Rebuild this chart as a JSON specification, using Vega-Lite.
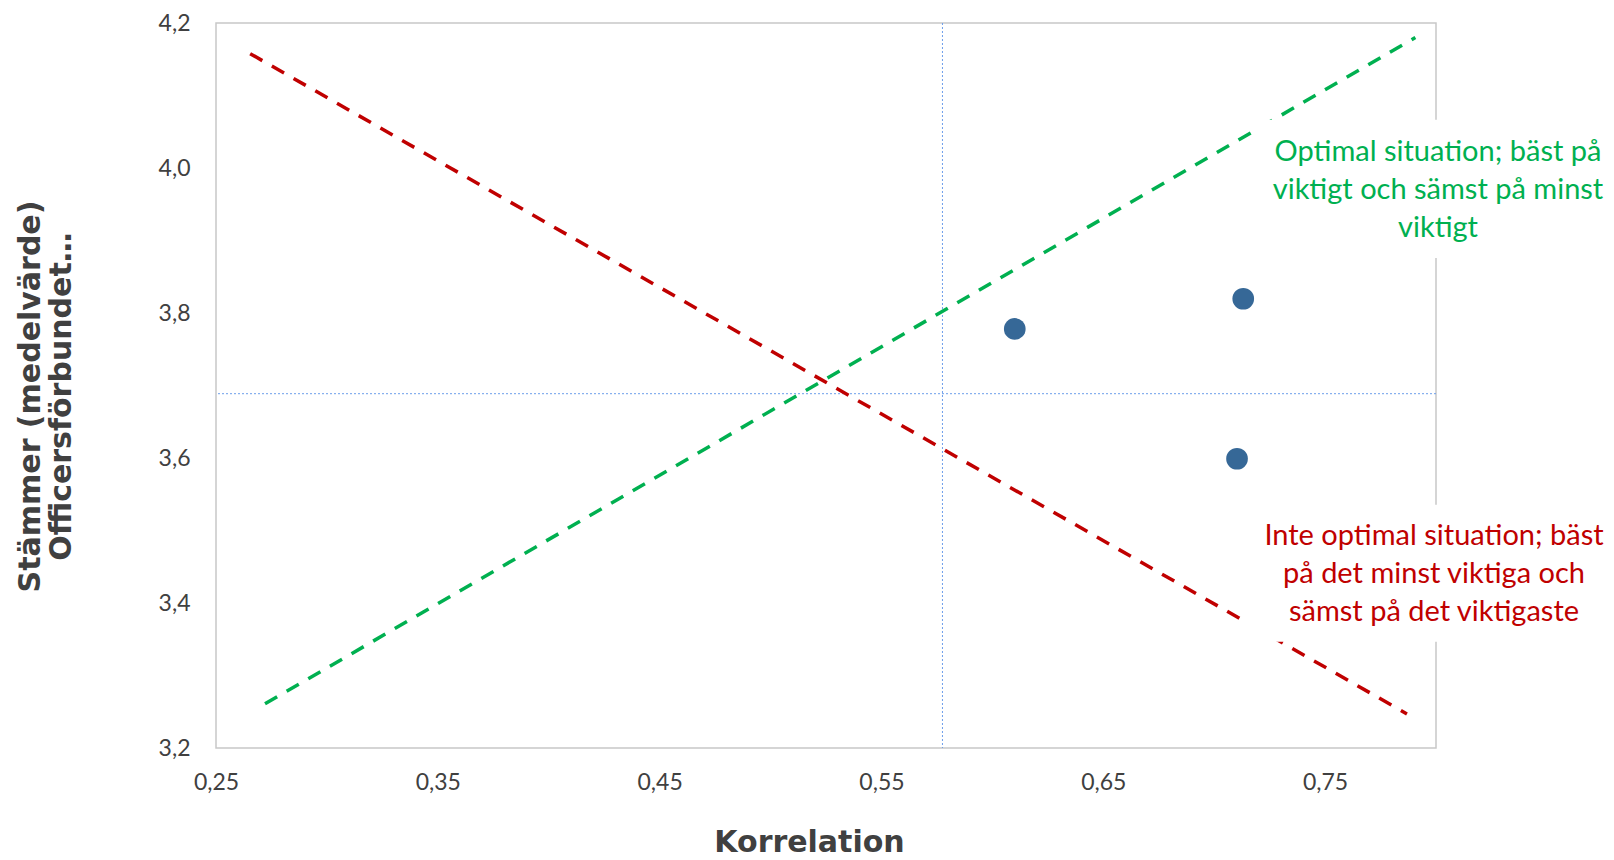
{
  "$schema": "https://vega.github.io/schema/vega-lite/v6.json",
  "width": 1220,
  "height": 725,
  "autosize": {"type": "none"},
  "padding": {"left": 216, "top": 23, "right": 178, "bottom": 112},
  "background": "white",
  "config": {
    "view": {"stroke": "#c8c8c8", "strokeWidth": 1.5},
    "font": "Lato",
    "axis": {"grid": false, "domain": false, "ticks": false, "labelFont": "Lato", "labelColor": "#404040", "titleFont": "DejaVu Sans", "titleColor": "#404040", "titleFontWeight": "bold"}
  },
  "datasets": {
    "lines": [
      {"serie": "Optimal", "x": 0.2721, "y": 3.261},
      {"serie": "Optimal", "x": 0.7907, "y": 4.180},
      {"serie": "Inte optimal", "x": 0.2654, "y": 4.1577},
      {"serie": "Inte optimal", "x": 0.7869, "y": 3.247}
    ],
    "points": [
      {"x": 0.6101, "y": 3.778},
      {"x": 0.7131, "y": 3.8197},
      {"x": 0.7103, "y": 3.599}
    ],
    "refs": [{"xref": 0.5775, "yref": 3.6887}],
    "boxes": [
      {"x": 0.7184, "x2": 0.88, "y": 4.0666, "y2": 3.876},
      {"x": 0.7139, "x2": 0.88, "y": 3.5356, "y2": 3.3466}
    ],
    "labels": [
      {"serie": "Optimal", "x": 0.8009, "y": 4.0225, "text": "Optimal situation; bäst på\nviktigt och sämst på minst\nviktigt"},
      {"serie": "Inte optimal", "x": 0.7991, "y": 3.4928, "text": "Inte optimal situation; bäst\npå det minst viktiga och\nsämst på det viktigaste"}
    ]
  },
  "encoding": {
    "x": {
      "type": "quantitative",
      "scale": {"domain": [0.25, 0.8], "nice": false, "zero": false},
      "axis": {
        "title": "Korrelation",
        "values": [0.25, 0.35, 0.45, 0.55, 0.65, 0.75],
        "labelExpr": "replace(format(datum.value, '.2f'), '.', ',')",
        "labelFlush": false,
        "labelFontSize": 23,
        "labelPadding": 23,
        "titleFontSize": 30,
        "titlePadding": 33,
        "titleX": 593
      }
    },
    "y": {
      "type": "quantitative",
      "scale": {"domain": [3.2, 4.2], "nice": false, "zero": false},
      "axis": {
        "title": ["Stämmer (medelvärde)", "Officersförbundet…"],
        "values": [3.2, 3.4, 3.6, 3.8, 4.0, 4.2],
        "labelExpr": "replace(format(datum.value, '.1f'), '.', ',')",
        "labelFlush": false,
        "labelFontSize": 23,
        "labelPadding": 26,
        "titleFontSize": 30,
        "titleLineHeight": 31,
        "titlePadding": 82,
        "titleY": 373
      }
    }
  },
  "layer": [
    {
      "data": {"name": "refs"},
      "mark": {"type": "rule", "color": "#6d9eeb", "strokeWidth": 1, "strokeDash": [2, 2]},
      "encoding": {"x": {"field": "xref", "type": "quantitative"}}
    },
    {
      "data": {"name": "refs"},
      "mark": {"type": "rule", "color": "#6d9eeb", "strokeWidth": 1, "strokeDash": [2, 2]},
      "encoding": {"y": {"field": "yref", "type": "quantitative"}}
    },
    {
      "data": {"name": "lines"},
      "mark": {"type": "line", "strokeWidth": 3.5, "strokeDash": [14, 11], "strokeCap": "butt"},
      "encoding": {
        "x": {"field": "x"},
        "y": {"field": "y"},
        "detail": {"field": "serie"},
        "color": {"field": "serie", "type": "nominal", "scale": {"domain": ["Optimal", "Inte optimal"], "range": ["#00b050", "#c00000"]}, "legend": null}
      }
    },
    {
      "data": {"name": "points"},
      "mark": {"type": "point", "filled": true, "opacity": 1, "size": 470, "color": "#366897"},
      "encoding": {"x": {"field": "x"}, "y": {"field": "y"}}
    },
    {
      "data": {"name": "boxes"},
      "mark": {"type": "rect", "color": "white", "opacity": 1},
      "encoding": {
        "x": {"field": "x"},
        "x2": {"field": "x2"},
        "y": {"field": "y"},
        "y2": {"field": "y2"}
      }
    },
    {
      "data": {"name": "labels"},
      "mark": {"type": "text", "font": "Lato", "fontSize": 29, "lineHeight": 38, "lineBreak": "\n", "align": "center", "baseline": "middle"},
      "encoding": {
        "x": {"field": "x"},
        "y": {"field": "y"},
        "text": {"field": "text"},
        "color": {"field": "serie", "type": "nominal", "scale": {"domain": ["Optimal", "Inte optimal"], "range": ["#00b050", "#c00000"]}, "legend": null}
      }
    }
  ]
}
